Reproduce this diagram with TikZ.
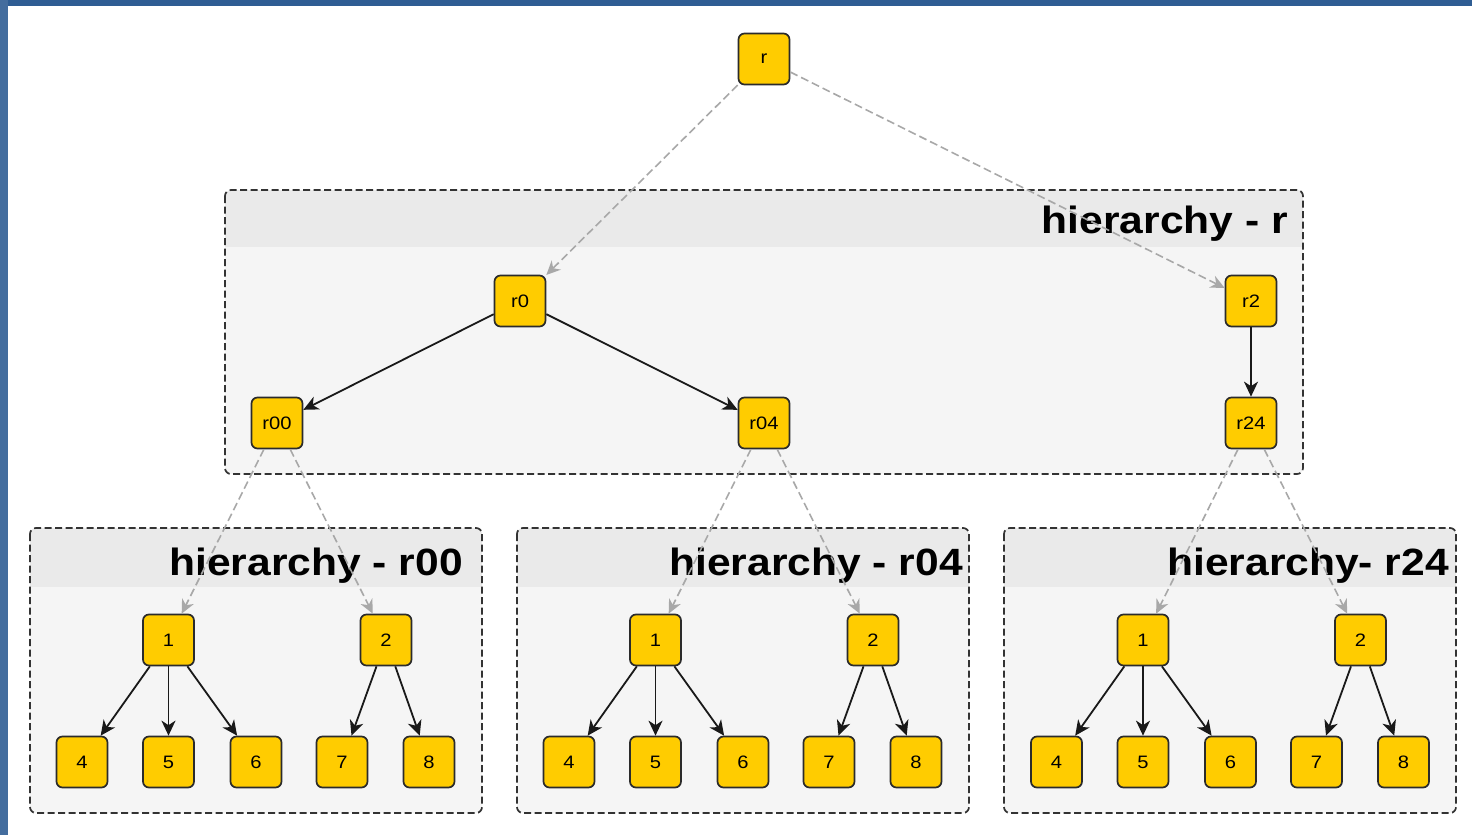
\documentclass[tikz,border=0pt]{standalone}
\usepackage{fontspec}
\setmainfont{Liberation Sans}
\usetikzlibrary{arrows.meta}
\definecolor{nodefill}{HTML}{FFCC00}
\definecolor{nodeline}{HTML}{2B2B2B}
\definecolor{headgray}{HTML}{EAEAEA}
\definecolor{bodygray}{HTML}{F5F5F5}
\definecolor{grpline}{HTML}{333333}
\definecolor{linkgray}{HTML}{A8A8A8}
\definecolor{frameblue}{HTML}{2F5D93}
\newcommand\hstretch[1]{\scalebox{1.12}[1]{#1}}
\begin{document}
\begin{tikzpicture}[x=1pt,y=-1pt,
  box/.style={draw=nodeline, fill=nodefill, line width=1.7pt, rounded corners=6pt,
    minimum width=51pt, minimum height=51pt, inner sep=0pt,
    font=\fontsize{18}{18}\selectfont},
  edge/.style={draw=black!90, line width=1.8pt, -{Stealth[length=15pt,width=14pt,inset=4.5pt]}},
  link/.style={draw=linkgray, line width=1.6pt, dash pattern=on 8pt off 4pt,
    -{Stealth[length=14pt,width=13pt,inset=4.5pt]}},
  grpborder/.style={draw=grpline, line width=1.7pt, dash pattern=on 7pt off 3.5pt, rounded corners=6pt},
  title/.style={anchor=base east, inner sep=0pt, font=\fontsize{38}{38}\selectfont\bfseries}
]
\useasboundingbox (0,0) rectangle (1472,835);
\fill[white] (0,0) rectangle (1472,835);
\fill[frameblue] (0,0) rectangle (1472,6);
\fill[frameblue!90!white] (0,0) rectangle (8,835);

% top group
\fill[bodygray, rounded corners=6pt] (225,190) rectangle (1303,474);
\begin{scope}
  \clip[rounded corners=6pt] (225,190) rectangle (1303,474);
  \fill[headgray] (225,190) rectangle (1303,247);
\end{scope}
\draw[grpborder] (225,190) rectangle (1303,474);
\node[title] (tr) at (1288,233) {\hstretch{hierarchy - r}};

% lower groups
\foreach \dx in {0,487,974} {
  \fill[bodygray, rounded corners=6pt] (30+\dx,528) rectangle (482+\dx,813);
  \begin{scope}
    \clip[rounded corners=6pt] (30+\dx,528) rectangle (482+\dx,813);
    \fill[headgray] (30+\dx,528) rectangle (482+\dx,587);
  \end{scope}
  \draw[grpborder] (30+\dx,528) rectangle (482+\dx,813);
}
\node[title] (ta) at (463,575) {\hstretch{hierarchy - r00}};
\node[title] (tb) at (963,575) {\hstretch{hierarchy - r04}};
\node[title] (tc) at (1449,575) {\hstretch{hierarchy- r24}};

% upper nodes
\node[box] (r) at (764,59) {\hstretch{r}};
\node[box] (r0) at (520,301) {\hstretch{r0}};
\node[box] (r2) at (1251,301) {\hstretch{r2}};
\node[box] (r00) at (277,423) {\hstretch{r00}};
\node[box] (r04) at (764,423) {\hstretch{r04}};
\node[box] (r24) at (1251,423) {\hstretch{r24}};

% lower nodes
\foreach \dx/\p in {0/a,487/b,974.5/c} {
  \node[box] (\p1) at (168.5+\dx,640) {\hstretch{1}};
  \node[box] (\p2) at (386+\dx,640) {\hstretch{2}};
  \node[box] (\p4) at (82+\dx,762) {\hstretch{4}};
  \node[box] (\p5) at (168.5+\dx,762) {\hstretch{5}};
  \node[box] (\p6) at (256+\dx,762) {\hstretch{6}};
  \node[box] (\p7) at (342+\dx,762) {\hstretch{7}};
  \node[box] (\p8) at (429+\dx,762) {\hstretch{8}};
  \draw[edge] (\p1) -- (\p4);
  \draw[edge] (\p1) -- (\p5);
  \draw[edge] (\p1) -- (\p6);
  \draw[edge] (\p2) -- (\p7);
  \draw[edge] (\p2) -- (\p8);
}

% solid edges
\draw[edge] (r0) -- (r00);
\draw[edge] (r0) -- (r04);
\draw[edge] (r2) -- (r24);

% dashed links
\draw[link] (r) -- (r0);
\draw[link] (r) -- (r2);
\draw[link] (r00) -- (a1);
\draw[link] (r00) -- (a2);
\draw[link] (r04) -- (b1);
\draw[link] (r04) -- (b2);
\draw[link] (r24) -- (c1);
\draw[link] (r24) -- (c2);
\end{tikzpicture}
\end{document}
